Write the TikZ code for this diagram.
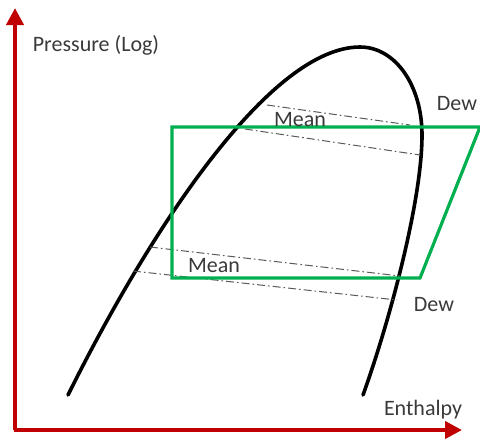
\documentclass[tikz,border=0pt]{standalone}
\usepackage{fontspec}
\setmainfont{Carlito}
\usetikzlibrary{arrows.meta,positioning,calc}
\definecolor{AxisRed}{HTML}{C00000}
\definecolor{CycleGreen}{HTML}{00B050}
\definecolor{LabelGray}{HTML}{3A3A3A}

\begin{document}
\begin{tikzpicture}[x=.5pt,y=-.5pt,
    axisstyle/.style={draw=AxisRed,line width=2pt,-{Triangle[width=8.5pt,length=8.5pt]}},
    domestyle/.style={draw=black,line width=1.8pt,line cap=round},
    cyclestyle/.style={draw=CycleGreen,line width=1.6pt},
    isostyle/.style={draw=black!65,line width=.5pt,dash pattern=on 4pt off 1.5pt on .8pt off 1.5pt},
    labelstyle/.style={font=\fontsize{11}{13}\selectfont,text=LabelGray,inner sep=0pt}]
    \useasboundingbox (0,0) rectangle (480,441);
    % axes
    \coordinate (origin) at (15,430);
    \coordinate (ptop) at (15,8);
    \coordinate (hright) at (462,430);
    \draw[axisstyle] (origin) -- (ptop);
    \draw[axisstyle] ($(origin)+(-1,0)$) -- (hright);
    \node[labelstyle] (pressure) at (96,45) {Pressure (Log)};
    \node[labelstyle] (enthalpy) at (423,410) {Enthalpy};
    % saturation dome
    \coordinate (liqend) at (68,395);
    \coordinate (crit) at (360,47);
    \coordinate (bulge) at (422,135);
    \coordinate (vapend) at (363,395);
    \draw[domestyle] (liqend) .. controls (150,230) and (270,47) .. (crit)
      .. controls (395,47) and (422,85) .. (bulge)
      .. controls (422,200) and (390,320) .. (vapend);
    % isotherms
    \coordinate (hiA) at (267,105); \coordinate (hiB) at (410,125);
    \coordinate (hiC) at (245,129); \coordinate (hiD) at (420,155);
    \coordinate (loA) at (150,247); \coordinate (loB) at (400,276);
    \coordinate (loC) at (133,271); \coordinate (loD) at (397,300);
    \draw[isostyle] (hiA) -- (hiB);
    \draw[isostyle] (hiC) -- (hiD);
    \draw[isostyle] (loA) -- (loB);
    \draw[isostyle] (loC) -- (loD);
    % cycle
    \draw[cyclestyle] (172,127) -- (480,127) -- (420,278) -- (172,278) -- cycle;
    \node[labelstyle] (meanhi) at (300,120) {Mean};
    \node[labelstyle] (dewhi) at (457,104) {Dew};
    \node[labelstyle] (meanlo) at (214,266) {Mean};
    \node[labelstyle] (dewlo) at (434,305) {Dew};
\end{tikzpicture}
\end{document}
